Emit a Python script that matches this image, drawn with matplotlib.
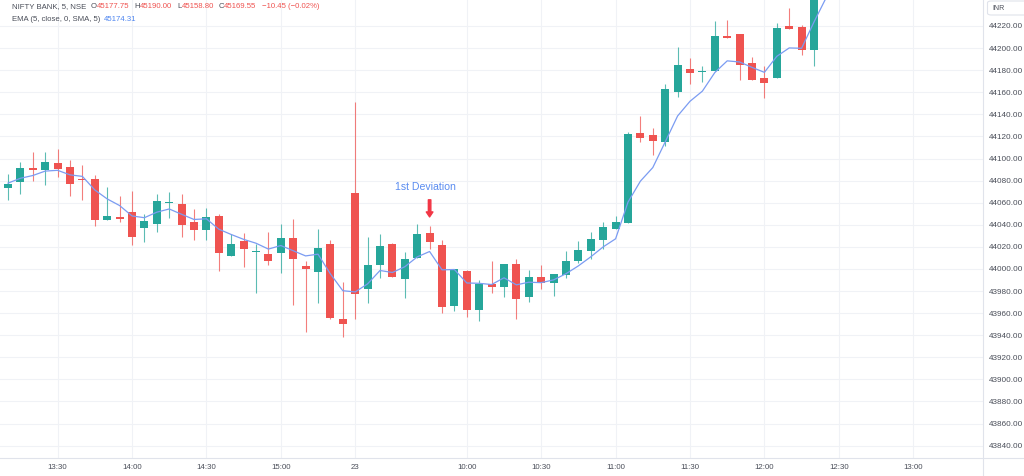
import matplotlib
matplotlib.use("Agg")
import numpy as np
import matplotlib.pyplot as plt
from matplotlib.lines import Line2D
from matplotlib.patches import FancyBboxPatch

W, H = 1024, 476

# 5 minute candles, NIFTY BANK (13:10 on the 22nd ... 12:35 on the 23rd)
opens = [44073.5, 44078.6, 44091.2, 44089.8, 44096.1, 44092.1, 44081.5, 44081.0, 44044.0, 44046.8,
         44051.5, 44037.4, 44041.0, 44059.5, 44058.4, 44042.2, 44035.6, 44047.6, 44011.5, 44025.0,
         44015.5, 44013.3, 44014.0, 44028.0, 44002.8, 43997.4, 44023.0, 43955.0, 44069.0, 43981.5,
         44004.0, 44022.3, 43990.5, 44010.3, 44032.9, 44021.4, 43966.4, 43997.8, 43962.8, 43986.0,
         43983.8, 44004.3, 43974.2, 43992.8, 43987.4, 43994.4, 44007.0, 44016.3, 44026.6, 44036.5,
         44042.0, 44123.4, 44121.6, 44115.3, 44159.8, 44180.9, 44178.3, 44178.8, 44211.0, 44212.5,
         44186.3, 44172.8, 44172.8, 44220.0, 44219.4, 44198.3, 44272.0]
highs = [44086.0, 44096.6, 44105.7, 44105.7, 44108.7, 44099.0, 44094.3, 44085.3, 44074.0, 44065.7,
         44071.0, 44050.0, 44068.0, 44070.0, 44068.0, 44054.2, 44055.0, 44049.4, 44031.4, 44033.0,
         44023.0, 44033.4, 44041.0, 44045.5, 44007.3, 44036.5, 44026.0, 43988.3, 44150.8, 44029.0,
         44031.4, 44023.5, 44014.9, 44041.0, 44038.6, 44026.0, 44000.4, 43999.2, 43989.9, 44007.0,
         44004.3, 44008.8, 43999.5, 44003.4, 43995.0, 44016.0, 44025.0, 44033.4, 44042.5, 44047.6,
         44124.3, 44138.8, 44127.7, 44167.4, 44201.0, 44191.4, 44183.9, 44224.5, 44225.4, 44213.0,
         44192.0, 44183.3, 44223.0, 44236.5, 44221.0, 44280.0, 44298.0]
lows = [44062.0, 44068.0, 44079.5, 44076.2, 44083.0, 44065.7, 44062.0, 44038.6, 44044.0, 44042.5,
        44022.0, 44024.4, 44033.4, 44046.4, 44029.0, 44026.0, 44026.0, 43998.0, 44011.5, 44002.0,
        43978.0, 44003.4, 43996.0, 43967.3, 43943.2, 43968.8, 43954.4, 43938.7, 43954.4, 43969.4,
        43992.0, 43992.3, 43974.0, 44010.3, 44018.5, 43960.0, 43961.5, 43956.5, 43952.5, 43978.4,
        43974.8, 43954.4, 43970.3, 43981.7, 43975.4, 43991.4, 44005.0, 44009.4, 44018.5, 44036.5,
        44042.0, 44114.7, 44103.6, 44111.0, 44155.3, 44167.4, 44169.5, 44178.8, 44209.4, 44171.3,
        44171.0, 44154.4, 44172.8, 44217.0, 44193.6, 44184.0, 44265.0]
closes = [44077.1, 44091.2, 44089.4, 44096.6, 44090.7, 44077.1, 44080.5, 44044.0, 44048.2, 44045.6,
          44029.0, 44043.4, 44061.2, 44060.5, 44039.5, 44035.0, 44047.0, 44014.0, 44022.3, 44018.5,
          44016.5, 44007.0, 44028.0, 44009.4, 44000.4, 44019.4, 43955.8, 43950.1, 43977.2, 44003.7,
          44020.8, 43992.8, 44008.8, 44031.4, 44024.4, 43965.5, 44000.0, 43962.8, 43986.0, 43984.0,
          44004.3, 43972.7, 43992.8, 43986.9, 43995.0, 44007.0, 44016.9, 44027.5, 44038.0, 44042.2,
          44122.3, 44118.6, 44116.2, 44162.9, 44184.5, 44177.3, 44179.5, 44211.0, 44209.4, 44184.8,
          44171.3, 44168.8, 44218.5, 44217.0, 44198.3, 44272.5, 44290.0]
ema = [44077.7, 44082.1, 44084.6, 44088.6, 44089.3, 44085.2, 44083.8, 44071.5, 44063.4, 44057.4,
       44048.0, 44046.4, 44051.4, 44054.3, 44049.5, 44044.8, 44045.4, 44036.0, 44031.2, 44026.8,
       44023.3, 44018.0, 44021.2, 44016.5, 44011.8, 44013.4, 43995.5, 43980.3, 43979.2, 43986.5,
       43998.6, 43996.8, 44002.0, 44010.9, 44015.8, 43999.2, 43999.5, 43987.3, 43987.0, 43985.9,
       43992.0, 43985.6, 43988.0, 43987.6, 43990.1, 43995.7, 44002.8, 44011.0, 44020.0, 44027.3,
       44060.5, 44079.5, 44091.8, 44115.0, 44138.5, 44151.8, 44161.0, 44177.8, 44188.4, 44187.4,
       44182.5, 44178.0, 44192.5, 44200.1, 44199.8, 44223.6, 44246.0]

time_idx = [4, 10, 16, 22, 28, 37, 43, 49, 55, 61, 67, 73]
time_labels = ["13:30", "14:00", "14:30", "15:00", "23", "10:00", "10:30",
               "11:00", "11:30", "12:00", "12:30", "13:00"]
price_ticks = np.arange(43840, 44221, 20)

dev_idx = 34
dev_text = "1st Deviation"

GREEN = "#26a69a"
RED = "#ef5350"
TEXT = "#4a4e59"
GRID = "#f0f2f6"
BORDER = "#e0e3eb"

plt.rcParams['font.family'] = ['Liberation Sans', 'DejaVu Sans']

fig = plt.figure(figsize=(W / 100, H / 100), dpi=100)
fig.patch.set_facecolor("white")
ax = fig.add_axes([0, 18.5 / H, 983 / W, 457.5 / H])

x = np.arange(len(opens))
o = np.array(opens)
c = np.array(closes)
colors = np.where(c >= o, GREEN, RED)
body_low = np.minimum(o, c)
body_h = np.maximum(np.abs(c - o), 1.1)

# wicks, bodies, EMA
ax.vlines(x, lows, highs, colors=colors, linewidth=0.8, alpha=0.75, zorder=2)
ax.bar(x, body_h, bottom=body_low, width=0.66, color=colors, linewidth=0, zorder=3)
ax.plot(x, ema, color="#7b9cf2", lw=0.9, zorder=4)

# annotation above the deviation candle
top = highs[dev_idx]
ax.annotate("", xy=(dev_idx, top + 8.5), xytext=(dev_idx, top + 24),
            arrowprops=dict(arrowstyle="simple,head_length=0.6,head_width=0.8,tail_width=0.3",
                            color="#f23645", mutation_scale=6, shrinkA=0, shrinkB=0),
            zorder=5)
ax.text(dev_idx - 0.33, top + 35.6, dev_text, color="#5a8cf0", fontsize=7.6,
        ha="center", va="center", zorder=5)

ax.set_xlim(-8 / 12.4, 975 / 12.4)
ax.set_ylim(43829.3, 44243.5)

ax.set_xticks(time_idx)
ax.set_xticklabels(time_labels)
ax.set_yticks(price_ticks)
ax.yaxis.tick_right()
ax.yaxis.set_major_formatter(lambda v, p: f"{v:.2f}")
ax.tick_params(axis="y", length=0, pad=4, labelsize=5.9, labelcolor=TEXT)
ax.tick_params(axis="x", length=0, pad=5, labelsize=5.7, labelcolor=TEXT)
ax.grid(True, color=GRID, lw=0.8, zorder=0)
ax.set_axisbelow(True)
for s in ax.spines.values():
    s.set_visible(False)

# price / time axis borders
fig.add_artist(Line2D([983 / W, 983 / W], [0, 1], color=BORDER, lw=0.8))
fig.add_artist(Line2D([0, 1], [18.5 / H, 18.5 / H], color=BORDER, lw=0.8))

# currency box
fig.add_artist(FancyBboxPatch((987.5 / W, 1 - 15 / H), 45 / W, 14 / H,
                              boxstyle="round,pad=0,rounding_size=0.004",
                              transform=fig.transFigure, fc="white", ec=BORDER, lw=0.8))
fig.text(992 / W, 1 - 8 / H, "INR", fontsize=5, color=TEXT, va="center")

# legend lines
renderer = fig.canvas.get_renderer()


def draw_runs(x_px, y_px, runs, size):
    for text, color, gap in runs:
        x_px += gap
        t = fig.text(x_px / W, 1 - y_px / H, text, color=color, fontsize=size,
                     va="center", ha="left")
        x_px = t.get_window_extent(renderer).x1


draw_runs(11.5, 7, [("NIFTY BANK, 5, NSE", TEXT, 0),
                    ("O", TEXT, 5), ("45177.75", RED, 0),
                    ("H", TEXT, 5), ("45190.00", RED, 0),
                    ("L", TEXT, 5), ("45158.80", RED, 0),
                    ("C", TEXT, 5), ("45169.55", RED, 0),
                    ("\u221210.45 (\u22120.02%)", RED, 5)], 5.6)
draw_runs(11.5, 19.5, [("EMA (5, close, 0, SMA, 5)", TEXT, 0),
                       ("45174.31", "#4f86f0", 4)], 5.6)

fig.savefig("out.png", dpi=100)
